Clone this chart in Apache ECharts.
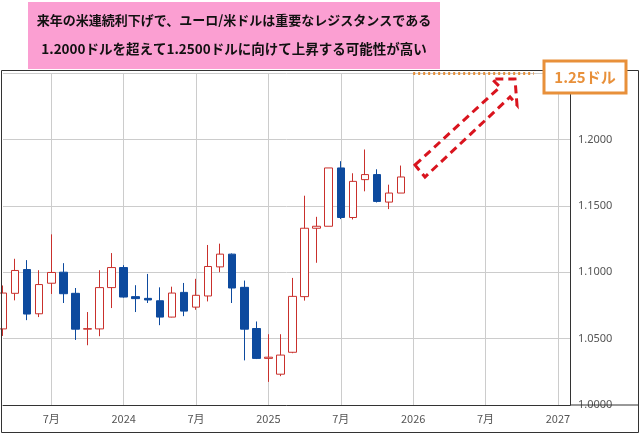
<!DOCTYPE html>
<html><head><meta charset="utf-8">
<script src="https://cdn.jsdelivr.net/npm/echarts@6/dist/echarts.min.js"></script>
<style>html,body{margin:0;padding:0;background:#fff}#c{width:640px;height:433px}</style>
</head><body><div id="c"></div>
<script>
const months = [];
for (let y = 2023; y <= 2027; y++) for (let m = 1; m <= 12; m++) {
  if ((y === 2023 && m < 3) || (y === 2027 && m > 2)) continue;
  months.push(y + '-' + String(m).padStart(2, '0'));
}
// [open, close, low, high]
const candles = [
  [1.0573, 1.0843, 1.0520, 1.0900],
  [1.0841, 1.1013, 1.0788, 1.1101],
  [1.1020, 1.0685, 1.0639, 1.1091],
  [1.0687, 1.0907, 1.0662, 1.1015],
  [1.0917, 1.0998, 1.0836, 1.1285],
  [1.1000, 1.0838, 1.0768, 1.1068],
  [1.0841, 1.0571, 1.0490, 1.0881],
  [1.0571, 1.0575, 1.0450, 1.0700],
  [1.0573, 1.0884, 1.0518, 1.1015],
  [1.0884, 1.1035, 1.0730, 1.1144],
  [1.1035, 1.0813, 1.0808, 1.1053],
  [1.0816, 1.0801, 1.0700, 1.0902],
  [1.0803, 1.0791, 1.0768, 1.0987],
  [1.0785, 1.0662, 1.0601, 1.0886],
  [1.0662, 1.0843, 1.0660, 1.0891],
  [1.0848, 1.0707, 1.0669, 1.0919],
  [1.0737, 1.0826, 1.0717, 1.0950],
  [1.0821, 1.1043, 1.0780, 1.1205],
  [1.1040, 1.1136, 1.1000, 1.1215],
  [1.1136, 1.0881, 1.0768, 1.1141],
  [1.0886, 1.0571, 1.0336, 1.0937],
  [1.0576, 1.0351, 1.0346, 1.0629],
  [1.0351, 1.0360, 1.0174, 1.0533],
  [1.0232, 1.0376, 1.0217, 1.0533],
  [1.0397, 1.0818, 1.0390, 1.0957],
  [1.0816, 1.1331, 1.0786, 1.1576],
  [1.1331, 1.1346, 1.1071, 1.1417],
  [1.1346, 1.1785, 1.1346, 1.1785],
  [1.1785, 1.1412, 1.1400, 1.1836],
  [1.1412, 1.1684, 1.1397, 1.1745],
  [1.1697, 1.1735, 1.1609, 1.1924],
  [1.1735, 1.1533, 1.1525, 1.1775],
  [1.1528, 1.1596, 1.1475, 1.1659],
  [1.1596, 1.1717, 1.1596, 1.1803]
];
const yTicks = [1.0, 1.05, 1.10, 1.15, 1.20, 1.25];
const target = 1.25;
const titleLines = ['来年の米連続利下げで、ユーロ/米ドルは重要なレジスタンスである', '1.2000ドルを超えて1.2500ドルに向けて上昇する可能性が高い'];

const isTick = v => v.endsWith('-01') || v.endsWith('-07');
const chart = echarts.init(document.getElementById('c'));
chart.setOption({
  animation: false,
  grid: { left: 3, right: 70, top: 73, bottom: 28 },
  xAxis: {
    type: 'category', data: months, boundaryGap: false,
    axisLine: { lineStyle: { color: '#333' } },
    axisTick: { show: false },
    axisLabel: {
      interval: (i, v) => isTick(v), color: '#555', fontSize: 11, fontFamily: 'Noto Sans CJK JP', margin: 8,
      formatter: v => v.endsWith('-01') ? v.slice(0, 4) : '7月'
    },
    splitLine: { show: true, interval: (i, v) => isTick(v), lineStyle: { color: '#ccc' } }
  },
  yAxis: {
    type: 'value', position: 'right', min: 1.0, max: 1.25, interval: 0.05,
    axisLine: { show: true, lineStyle: { color: '#333' } },
    axisTick: { show: false },
    axisLabel: { color: '#555', fontSize: 11, fontFamily: 'Noto Sans', margin: 8, formatter: v => v.toFixed(4) },
    splitLine: { lineStyle: { color: '#ccc' } }
  },
  series: [{
    type: 'candlestick', data: candles, barWidth: 8,
    itemStyle: { color: '#fff', color0: '#0d4a9e', borderColor: '#c9302c', borderColor0: '#0d4a9e', borderWidth: 1 },
    markLine: {
      symbol: 'none', silent: true, label: { show: false },
      lineStyle: { color: '#e8903a', type: [2, 3], width: 3 },
      data: [[{ coord: ['2026-01', target] }, { coord: ['2026-11', target] }]]
    }
  }],
  graphic: [
    { type: 'rect', shape: { x: 1.5, y: 70.5, width: 637, height: 362 }, style: { fill: 'none', stroke: '#333', lineWidth: 1 }, z: 10 },
    { type: 'line', shape: { x1: 570, y1: 405, x2: 639, y2: 405 }, style: { stroke: '#333', lineWidth: 1 }, z: 10 },
    { type: 'rect', shape: { x: 28, y: 2, width: 412, height: 67 }, style: { fill: '#fb9fd2' }, z: 20 },
    { type: 'text', x: 234, y: 20, style: { text: titleLines[0], font: 'bold 13px "Noto Sans CJK JP"', fill: '#111', align: 'center', verticalAlign: 'middle' }, z: 21 },
    { type: 'text', x: 234, y: 49, style: { text: titleLines[1], font: 'bold 13.5px "Noto Sans CJK JP"', fill: '#111', align: 'center', verticalAlign: 'middle' }, z: 21 },
    { type: 'rect', shape: { x: 544, y: 61, width: 82, height: 32 }, style: { fill: '#fff', stroke: '#e8903a', lineWidth: 3 }, z: 20 },
    { type: 'text', x: 585, y: 77, style: { text: '1.25ドル', font: 'bold 15px "Noto Sans CJK JP"', fill: '#e8903a', align: 'center', verticalAlign: 'middle' }, z: 21 },
    { type: 'polygon', shape: { points: [[415,165],[500,87],[492,79],[515,79],[517,105],[510,97],[425,177]] },
      style: { fill: 'none', stroke: '#d9141e', lineWidth: 3, lineDash: [8, 5] }, z: 20 }
  ]
});
</script></body></html>
